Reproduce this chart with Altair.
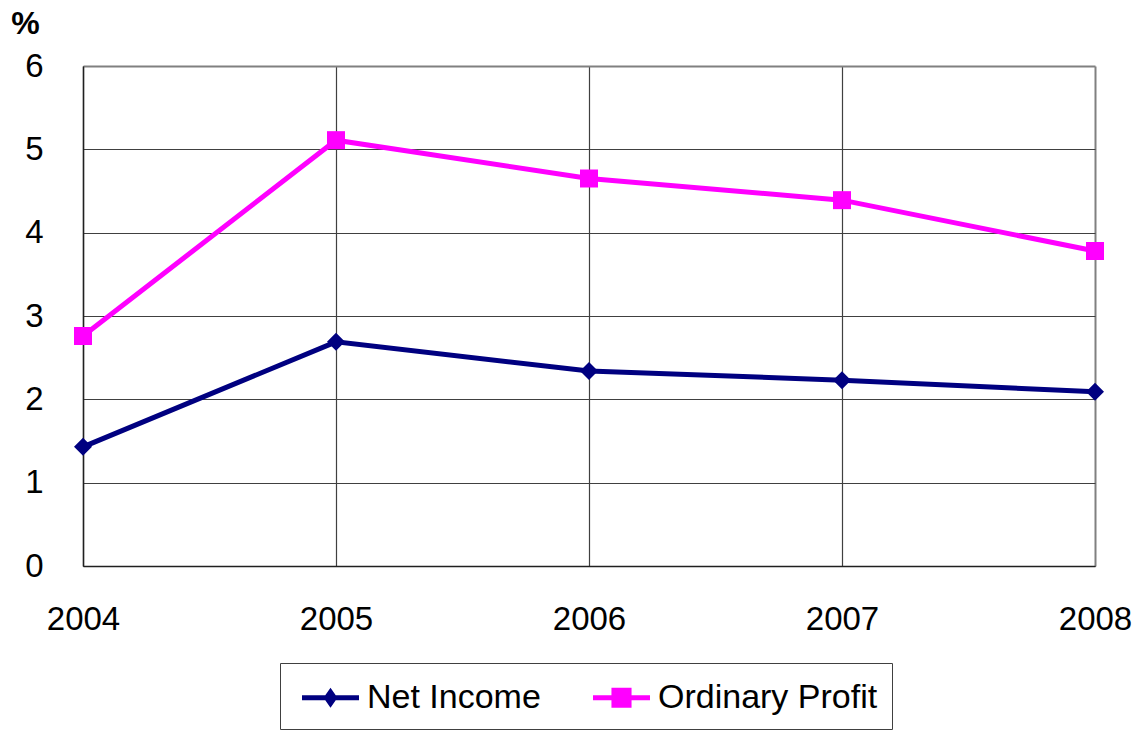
import altair as alt
import pandas as pd

years = [2004, 2005, 2006, 2007, 2008]
net_income = [1.43, 2.69, 2.34, 2.23, 2.09]
ordinary_profit = [2.76, 5.11, 4.65, 4.39, 3.78]
series_names = ["Net Income", "Ordinary Profit"]
series_colors = ["#000080", "#FF00FF"]
series_shapes = ["diamond", "square"]
y_ticks = [0, 1, 2, 3, 4, 5, 6]

rows = []
for name, vals in zip(series_names, [net_income, ordinary_profit]):
    for yr, v in zip(years, vals):
        rows.append({"Year": yr, "Value": v, "Series": name})
df = pd.DataFrame(rows)

FONT = "Liberation Sans"
# legend glyphs: a short thick line with the marker in its middle (wider than the unit box)
legend_paths = [
    "M-1.39,-0.12H1.39V0.12H-1.39Z M0,-0.49L0.34,0L0,0.49L-0.34,0Z",
    "M-1.39,-0.12H1.39V0.12H-1.39Z M-0.49,-0.49H0.49V0.49H-0.49Z",
]

x_enc = alt.X(
    "Year:Q",
    scale=alt.Scale(domain=[years[0], years[-1]], nice=False, zero=False),
    axis=alt.Axis(
        values=years,
        format="d",
        title=None,
        labelFont=FONT,
        labelFontSize=33,
        labelColor="black",
        labelPadding=37,
        labelFlush=False,
        labelOverlap=False,
        labelBound=False,
        ticks=False,
        domainColor="#202020",
        domainWidth=1.5,
        gridColor={"condition": {"test": f"datum.value === {years[-1]}", "value": "#808080"}, "value": "#404040"},
        gridWidth={"condition": {"test": f"datum.value === {years[-1]}", "value": 2}, "value": 1.2},
        gridOpacity=1,
    ),
)

y_enc = alt.Y(
    "Value:Q",
    scale=alt.Scale(domain=[0, 6], nice=False),
    axis=alt.Axis(
        values=y_ticks,
        title="%",
        titleAngle=0,
        titleX=-58,
        titleY=-43,
        titleAlign="center",
        titleBaseline="middle",
        titleFont=FONT,
        titleFontSize=32,
        titleFontWeight="bold",
        titleColor="black",
        labelFont=FONT,
        labelFontSize=33,
        labelColor="black",
        labelPadding=40,
        labelFlush=False,
        labelOverlap=False,
        ticks=False,
        domainColor="#202020",
        domainWidth=1.5,
        gridColor={"condition": {"test": f"datum.value === {y_ticks[-1]}", "value": "#808080"}, "value": "#404040"},
        gridWidth={"condition": {"test": f"datum.value === {y_ticks[-1]}", "value": 2}, "value": 1.2},
        gridOpacity=1,
    ),
)

base = alt.Chart(df)

layers = []
for name, col in zip(series_names, series_colors):
    layers.append(
        base.transform_filter(alt.datum.Series == name)
        .mark_line(strokeWidth=5, color=col)
        .encode(x=x_enc, y=y_enc)
    )
for name, col, shp in zip(series_names, series_colors, series_shapes):
    layers.append(
        base.transform_filter(alt.datum.Series == name)
        .mark_point(filled=True, size=324, opacity=1, shape=shp, color=col)
        .encode(x=x_enc, y=y_enc)
    )

legend = alt.Legend(
    title=None,
    orient="none",
    legendX=197,
    legendY=597,
    direction="horizontal",
    strokeColor="#404040",
    padding=14,
    labelFont=FONT,
    labelFontSize=34,
    labelColor="black",
    labelLimit=0,
    labelOffset=16,
    symbolOffset=16,
    columnPadding=44,
    symbolSize=1681,
    symbolStrokeWidth=0,
    symbolOpacity=1,
)

legend_layer = (
    base.transform_filter("false")
    .mark_point(filled=True, size=1681, opacity=1)
    .encode(
        x=x_enc,
        y=y_enc,
        color=alt.Color("Series:N", scale=alt.Scale(domain=series_names, range=series_colors), legend=legend),
        shape=alt.Shape("Series:N", scale=alt.Scale(domain=series_names, range=legend_paths), legend=legend),
    )
)
layers.append(legend_layer)

chart = (
    alt.layer(*layers)
    .properties(
        width=1012,
        height=500,
        autosize=alt.AutoSizeParams(type="none"),
        padding={"left": 75, "top": 58, "right": 40, "bottom": 164},
        background="white",
    )
    .configure_view(stroke=None)
)

chart.save("out.html", embed_options={"renderer": "svg", "actions": False})
